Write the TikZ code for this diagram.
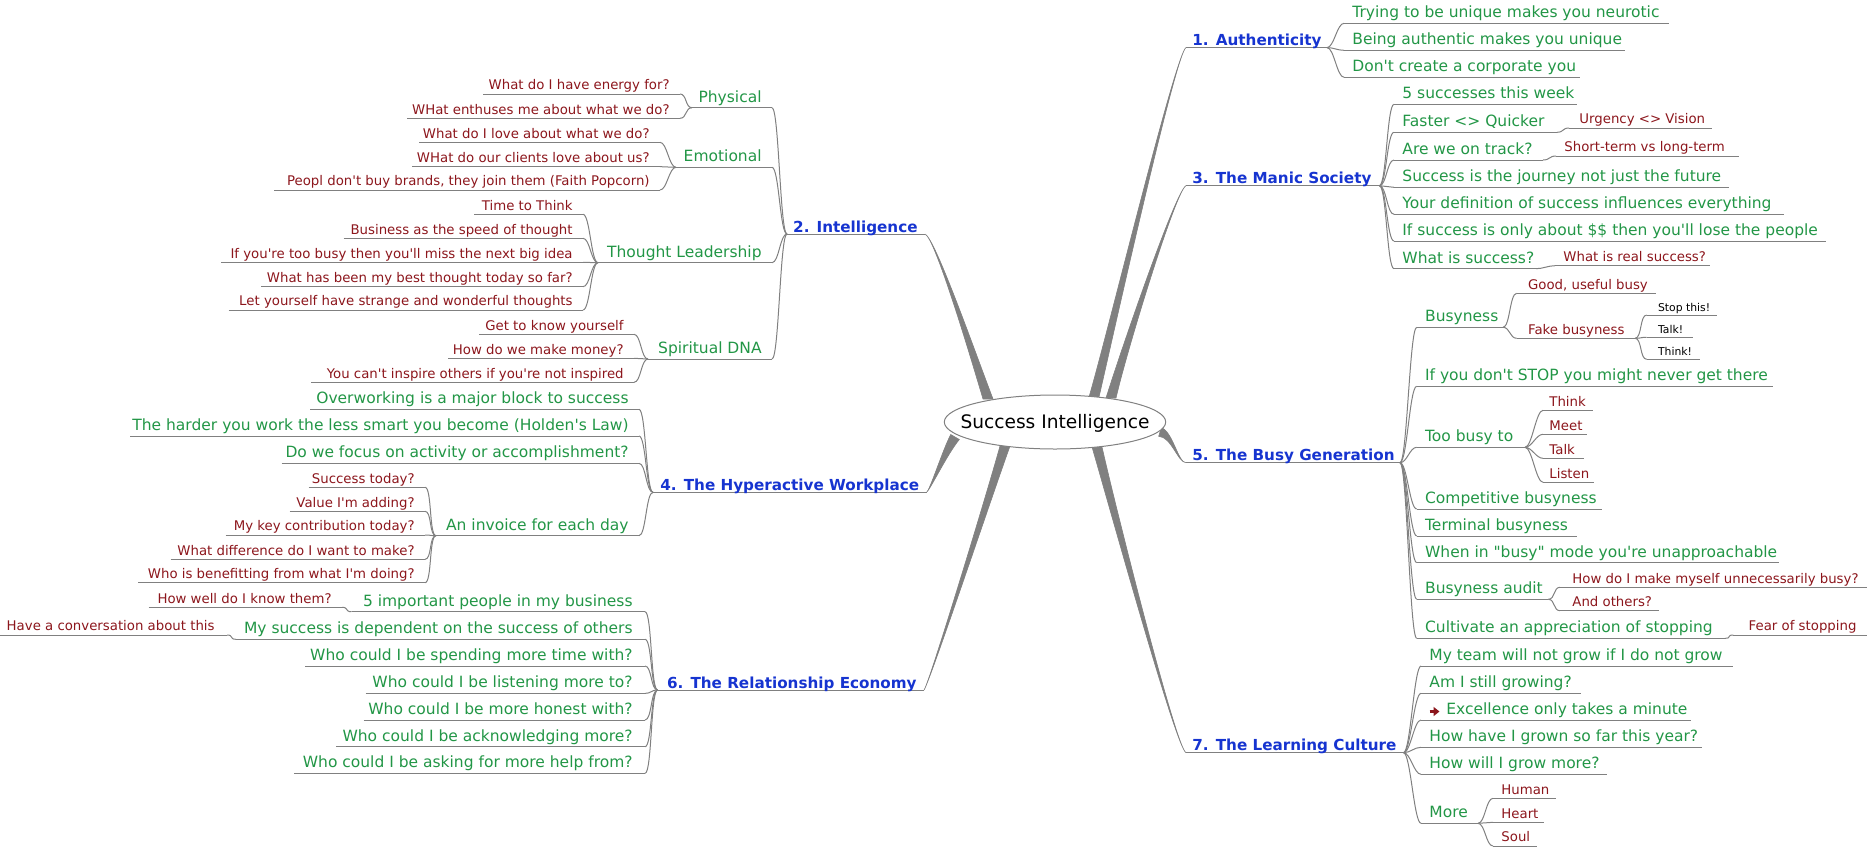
\documentclass[tikz,border=0pt]{standalone}
\usepackage{fontspec}
\newfontfamily\mm{DejaVu Sans}
\usetikzlibrary{calc,shapes.geometric,arrows.meta}
\definecolor{mmgreen}{RGB}{34,150,70}
\definecolor{mmred}{RGB}{140,22,28}
\definecolor{mmblue}{RGB}{22,52,208}
\definecolor{mmgray}{RGB}{128,128,128}
% right-side node: name, xL, xR, y, style, text
\newcommand\RN[6]{%
  \coordinate (#1-l) at (#2,#4);
  \coordinate (#1-r) at (#3,#4);
  \draw[uline] (#1-l) -- (#1-r);
  \node[#5,anchor=base west,xshift=4pt] (#1) at (#1-l) {#6};}
% left-side node
\newcommand\LN[6]{%
  \coordinate (#1-l) at (#2,#4);
  \coordinate (#1-r) at (#3,#4);
  \draw[uline] (#1-l) -- (#1-r);
  \node[#5,anchor=base east,xshift=-5pt] (#1) at (#1-r) {#6};}
\newcommand\FR[2]{\draw[edge] (#1-r) to[out=0,in=180,distance=3.5pt] (#2-l);}
\newcommand\FL[2]{\draw[edge] (#1-l) to[out=180,in=0,distance=3.5pt] (#2-r);}
% tapered main branch: start, c1, c2, end, offset
\newcommand\mbranch[5]{%
  \fill[brfill] ($(#1)-(#5)$) .. controls ($(#2)-0.6*(#5)$) and (#3) .. (#4)
    .. controls (#3) and ($(#2)+0.6*(#5)$) .. ($(#1)+(#5)$) -- cycle;}
\begin{document}
\begin{tikzpicture}[x=0.5pt,y=-0.5pt,
  uline/.style={draw=mmgray,line width=0.5pt},
  edge/.style={draw=mmgray,line width=0.5pt},
  brfill/.style={fill=mmgray,draw=mmgray,line width=0.3pt},
  htext/.style={font=\mm\bfseries\fontsize{7.6}{9}\selectfont,text=mmblue,inner sep=0pt,yshift=0.9pt},
  gtext/.style={font=\mm\fontsize{7.75}{9}\selectfont,text=mmgreen,inner sep=0pt,yshift=2.75pt},
  rtext/.style={font=\mm\fontsize{6.65}{8}\selectfont,text=mmred,inner sep=0pt,yshift=2.15pt},
  ktext/.style={font=\mm\fontsize{5.4}{6.5}\selectfont,text=black,inner sep=0pt,yshift=1.7pt}]
\useasboundingbox (0,0) rectangle (1867,847);

% ---------------- headings ----------------
\RN{h1}{1186}{1327}{47.6}{htext,xshift=-1pt}{1. Authenticity}
\RN{h3}{1186}{1379.4}{185.7}{htext,xshift=-1pt}{3. The Manic Society}
\RN{h5}{1186}{1400}{462.7}{htext,xshift=-1pt}{5. The Busy Generation}
\RN{h7}{1186}{1403.5}{752.7}{htext,xshift=-1pt}{7. The Learning Culture}
\LN{h2}{787}{925}{234}{htext,xshift=1.5pt}{2. Intelligence}
\LN{h4}{653}{926.5}{492.3}{htext,xshift=1.5pt}{4. The Hyperactive Workplace}
\LN{h6}{657.6}{924}{690}{htext,xshift=1.5pt}{6. The Relationship Economy}

% ---------------- 1. Authenticity ----------------
\RN{a1}{1344}{1669}{23.3}{gtext}{Trying to be unique makes you neurotic}
\RN{a2}{1344}{1625}{50.3}{gtext}{Being authentic makes you unique}
\RN{a3}{1344}{1580}{77.3}{gtext}{Don't create a corporate you}
\FR{h1}{a1}\FR{h1}{a2}\FR{h1}{a3}

% ---------------- 3. The Manic Society ----------------
\RN{m1}{1394}{1576.6}{104.3}{gtext}{5 successes this week}
\RN{m2}{1394}{1557}{132.3}{gtext}{Faster <> Quicker}
\RN{m2a}{1569}{1712}{128}{rtext,xshift=1pt}{Urgency <> Vision}
\RN{m3}{1394}{1543}{160}{gtext}{Are we on track?}
\RN{m3a}{1556}{1739}{156}{rtext}{Short-term vs long-term}
\RN{m4}{1394}{1728.6}{187.3}{gtext}{Success is the journey not just the future}
\RN{m5}{1394}{1784}{214.3}{gtext}{Your definition of success influences everything}
\RN{m6}{1394}{1826}{241}{gtext}{If success is only about \$\$ then you'll lose the people}
\RN{m7}{1394}{1536}{268.7}{gtext}{What is success?}
\RN{m7a}{1555}{1710}{265.7}{rtext}{What is real success?}
\FR{h3}{m1}\FR{h3}{m2}\FR{h3}{m3}\FR{h3}{m4}\FR{h3}{m5}\FR{h3}{m6}\FR{h3}{m7}
\FR{m2}{m2a}\FR{m3}{m3a}\FR{m7}{m7a}

% ---------------- 5. The Busy Generation ----------------
\RN{b1}{1416.7}{1503}{327.3}{gtext}{Busyness}
\RN{b1a}{1516.7}{1656}{293.3}{rtext,xshift=1.5pt}{Good, useful busy}
\RN{b1b}{1516.7}{1635}{338.3}{rtext,xshift=1.5pt}{Fake busyness}
\RN{b1b1}{1646.7}{1716.7}{315}{ktext,xshift=1.5pt}{Stop this!}
\RN{b1b2}{1646.7}{1693}{337.3}{ktext,xshift=1.5pt}{Talk!}
\RN{b1b3}{1646.7}{1700}{359.3}{ktext,xshift=1.5pt}{Think!}
\RN{b2}{1416.7}{1773.3}{386.3}{gtext}{If you don't STOP you might never get there}
\RN{b3}{1416.7}{1525}{447.3}{gtext}{Too busy to}
\RN{b3a}{1543}{1593}{410.3}{rtext,xshift=-1pt}{Think}
\RN{b3b}{1543}{1587.3}{434.3}{rtext,xshift=-1pt}{Meet}
\RN{b3c}{1543}{1584}{458.3}{rtext,xshift=-1pt}{Talk}
\RN{b3d}{1543}{1594}{482.3}{rtext,xshift=-1pt}{Listen}
\RN{b4}{1416.7}{1601.7}{509}{gtext}{Competitive busyness}
\RN{b5}{1416.7}{1576.7}{536}{gtext}{Terminal busyness}
\RN{b6}{1416.7}{1779.3}{562.7}{gtext}{When in "busy" mode you're unapproachable}
\RN{b7}{1416.7}{1548.3}{599.3}{gtext}{Busyness audit}
\RN{b7a}{1560}{1866.7}{587.3}{rtext,xshift=2pt}{How do I make myself unnecessarily busy?}
\RN{b7b}{1560}{1659.3}{610.7}{rtext,xshift=2pt}{And others?}
\RN{b8}{1416.7}{1725}{638.3}{gtext}{Cultivate an appreciation of stopping}
\RN{b8a}{1733.3}{1866.7}{635}{rtext,xshift=3.5pt}{Fear of stopping}
\FR{h5}{b1}\FR{h5}{b2}\FR{h5}{b3}\FR{h5}{b4}\FR{h5}{b5}\FR{h5}{b6}\FR{h5}{b7}\FR{h5}{b8}
\FR{b1}{b1a}\FR{b1}{b1b}
\FR{b1b}{b1b1}\FR{b1b}{b1b2}\FR{b1b}{b1b3}
\FR{b3}{b3a}\FR{b3}{b3b}\FR{b3}{b3c}\FR{b3}{b3d}
\FR{b7}{b7a}\FR{b7}{b7b}
\FR{b8}{b8a}

% ---------------- 7. The Learning Culture ----------------
\RN{l1}{1421}{1733}{666}{gtext}{My team will not grow if I do not grow}
\RN{l2}{1421}{1581}{693.3}{gtext}{Am I still growing?}
\RN{l3}{1421}{1690.5}{720}{gtext,xshift=8.5pt}{Excellence only takes a minute}
\RN{l4}{1421}{1702}{747.3}{gtext}{How have I grown so far this year?}
\RN{l5}{1421}{1607}{774.3}{gtext}{How will I grow more?}
\RN{l6}{1421}{1478}{823.3}{gtext}{More}
\RN{l6a}{1493}{1556}{798.3}{rtext}{Human}
\RN{l6b}{1493}{1543.7}{822.3}{rtext}{Heart}
\RN{l6c}{1493}{1537}{846}{rtext}{Soul}
\draw[mmred,line width=1.2pt,-{Triangle[length=3pt,width=4.5pt]}] ($(l3-l)+(8.5,-8.5)$) -- ++(10,0);
\FR{h7}{l1}\FR{h7}{l2}\FR{h7}{l3}\FR{h7}{l4}\FR{h7}{l5}\FR{h7}{l6}
\FR{l6}{l6a}\FR{l6}{l6b}\FR{l6}{l6c}

% ---------------- 2. Intelligence ----------------
\LN{i1}{692}{772}{107.7}{gtext}{Physical}
\LN{i1a}{483}{680}{94}{rtext}{What do I have energy for?}
\LN{i1b}{407}{680}{118.3}{rtext}{WHat enthuses me about what we do?}
\LN{i2}{676}{772}{167.3}{gtext}{Emotional}
\LN{i2a}{419}{660}{142.3}{rtext}{What do I love about what we do?}
\LN{i2b}{412}{660}{166.7}{rtext}{WHat do our clients love about us?}
\LN{i2c}{274}{660}{190}{rtext}{Peopl don't buy brands, they join them (Faith Popcorn)}
\LN{i3}{598}{772}{262.7}{gtext}{Thought Leadership}
\LN{i3a}{474}{583}{214.3}{rtext}{Time to Think}
\LN{i3b}{343.5}{583}{238.3}{rtext}{Business as the speed of thought}
\LN{i3c}{221}{583}{262.3}{rtext}{If you're too busy then you'll miss the next big idea}
\LN{i3d}{261}{583}{286.7}{rtext}{What has been my best thought today so far?}
\LN{i3e}{228.7}{583}{310}{rtext}{Let yourself have strange and wonderful thoughts}
\LN{i4}{648}{772}{359}{gtext}{Spiritual DNA}
\LN{i4a}{479}{634}{334.3}{rtext}{Get to know yourself}
\LN{i4b}{448}{634}{358.3}{rtext}{How do we make money?}
\LN{i4c}{311}{634}{382.3}{rtext}{You can't inspire others if you're not inspired}
\FL{h2}{i1}\FL{h2}{i2}\FL{h2}{i3}\FL{h2}{i4}
\FL{i1}{i1a}\FL{i1}{i1b}
\FL{i2}{i2a}\FL{i2}{i2b}\FL{i2}{i2c}
\FL{i3}{i3a}\FL{i3}{i3b}\FL{i3}{i3c}\FL{i3}{i3d}\FL{i3}{i3e}
\FL{i4}{i4a}\FL{i4}{i4b}\FL{i4}{i4c}

% ---------------- 4. The Hyperactive Workplace ----------------
\LN{w1}{310}{639}{409.3}{gtext}{Overworking is a major block to success}
\LN{w2}{130}{639}{436}{gtext}{The harder you work the less smart you become (Holden's Law)}
\LN{w3}{281.6}{639}{463.3}{gtext}{Do we focus on activity or accomplishment?}
\LN{w4}{436}{639}{535.7}{gtext}{An invoice for each day}
\LN{w4a}{308.7}{425}{487.3}{rtext}{Success today?}
\LN{w4b}{289.7}{425}{511.3}{rtext}{Value I'm adding?}
\LN{w4c}{225.7}{425}{535}{rtext}{My key contribution today?}
\LN{w4d}{170.5}{425}{559.3}{rtext}{What difference do I want to make?}
\LN{w4e}{138}{425}{582.7}{rtext}{Who is benefitting from what I'm doing?}
\FL{h4}{w1}\FL{h4}{w2}\FL{h4}{w3}\FL{h4}{w4}
\FL{w4}{w4a}\FL{w4}{w4b}\FL{w4}{w4c}\FL{w4}{w4d}\FL{w4}{w4e}

% ---------------- 6. The Relationship Economy ----------------
\LN{r1}{351.5}{645}{611.7}{gtext,xshift=-1pt}{5 important people in my business}
\LN{r1a}{148.5}{342}{607.3}{rtext}{How well do I know them?}
\LN{r2}{236}{645}{639.3}{gtext,xshift=-1pt}{My success is dependent on the success of others}
\LN{r2a}{0}{227}{635}{rtext,xshift=-1pt}{Have a conversation about this}
\LN{r3}{305}{645}{666}{gtext,xshift=-1pt}{Who could I be spending more time with?}
\LN{r4}{365.5}{645}{693.3}{gtext,xshift=-1pt}{Who could I be listening more to?}
\LN{r5}{363.6}{645}{720}{gtext,xshift=-1pt}{Who could I be more honest with?}
\LN{r6}{336.4}{645}{746.7}{gtext,xshift=-1pt}{Who could I be acknowledging more?}
\LN{r7}{294}{645}{773.3}{gtext,xshift=-1pt}{Who could I be asking for more help from?}
\FL{h6}{r1}\FL{h6}{r2}\FL{h6}{r3}\FL{h6}{r4}\FL{h6}{r5}\FL{h6}{r6}\FL{h6}{r7}
\FL{r1}{r1a}\FL{r2}{r2a}

% ---------------- main branches ----------------
\coordinate (s1) at (1094,397);
\coordinate (s3) at (1111,398);
\coordinate (s5) at (1160,432);
\coordinate (s7) at (1097,447);
\coordinate (s2) at (988,399);
\coordinate (s4) at (955,437);
\coordinate (s6) at (1005,446);
\mbranch{s1}{1110,336}{1176,52}{h1-l}{5,0}
\mbranch{s3}{1124,350}{1176,190}{h3-l}{5,0}
\mbranch{s5}{1172,434}{1178,462.7}{h5-l}{1.3,-4.3}
\mbranch{s7}{1112,505}{1176,748}{h7-l}{5,0}
\mbranch{s2}{972,352}{935,238}{h2-r}{5,0}
\mbranch{s4}{945,452}{930,490}{h4-r}{4.3,2.5}
\mbranch{s6}{990,493}{929,684}{h6-r}{5,0}

% ---------------- root ----------------
\node[ellipse,draw=mmgray,line width=0.5pt,fill=white,minimum width=110.7pt,minimum height=27pt,inner sep=0pt] (root) at (1055,422) {};
\node[font=\mm\fontsize{9.3}{11}\selectfont,anchor=base,inner sep=0pt] (rootlabel) at (1055,428.3) {Success Intelligence};
\end{tikzpicture}
\end{document}
